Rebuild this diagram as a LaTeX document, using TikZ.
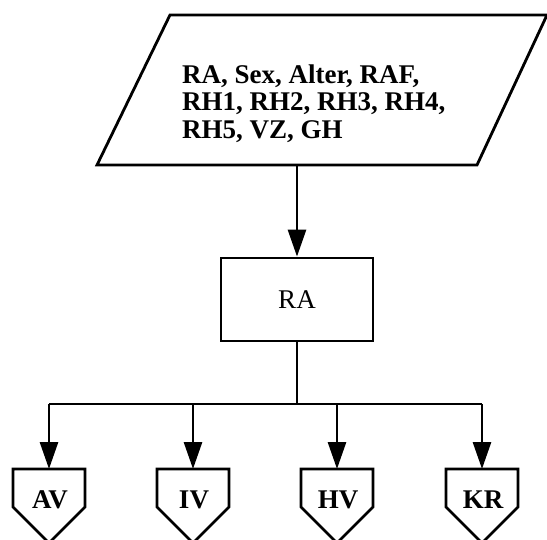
\documentclass[tikz,border=0pt]{standalone}
\usepackage{fontspec}
\setmainfont{Liberation Serif}
\usetikzlibrary{arrows.meta}
\begin{document}
\begin{tikzpicture}[x=1pt,y=-1pt,
  ln/.style={line width=2.8pt, line join=miter},
  arr/.style={ln, -{Triangle[length=27pt,width=18pt]}},
  txt/.style={inner sep=0pt, font=\fontsize{27}{27.5}\selectfont\bfseries},
  procbox/.style={ln, draw, minimum width=152pt, minimum height=83pt, inner sep=0pt, font=\fontsize{27}{28}\selectfont}]
\useasboundingbox (0,0) rectangle (547,539);
% input parallelogram
\draw[ln] (97,165) -- (170,15) -- (547,15) -- (477,165) -- cycle;
\node[txt, anchor=base west, align=left] (in) at (182,138) {RA, Sex, Alter, RAF,\\RH1, RH2, RH3, RH4,\\RH5, VZ, GH};
\coordinate (inb) at (297,165);
% process box
\node[procbox] (ra) at (297,299.5) {RA};
\draw[arr] (inb) -- (ra.north);
% bus
\coordinate (bus) at (297,404);
\draw[ln] (ra.south) -- (bus);
\coordinate (busl) at (49,404);
\coordinate (busr) at (482,404);
\draw[ln] (busl) -- (busr);
\foreach \n/\t/\x in {av/AV/49, iv/IV/193, hv/HV/337, kr/KR/482} {
  \coordinate (\n top) at (\x,469);
  \draw[ln] (\x-36,469) -- (\x+36,469) -- (\x+36,507) -- (\x,543) -- (\x-36,507) -- cycle;
  \node[txt, anchor=base] (\n) at (\x+1,508) {\t};
  \coordinate (\n bus) at (\x,404);
  \draw[arr] (\n bus) -- (\n top);
}
\end{tikzpicture}
\end{document}
